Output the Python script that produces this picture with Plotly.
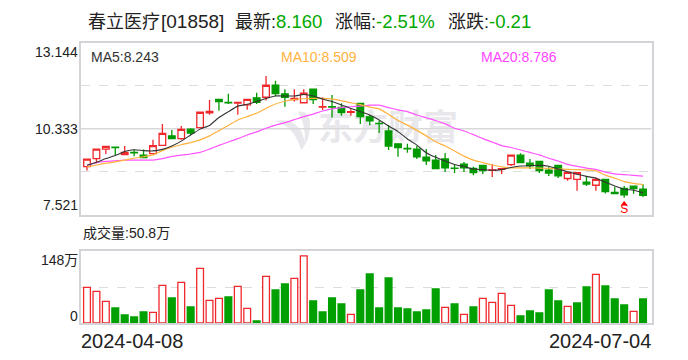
import plotly.graph_objects as go

dates = ["2024-04-08", "2024-07-04"]
stock_name = "春立医疗"
stock_code = "[01858]"
summary_labels = ["最新:", "涨幅:", "涨跌:"]
summary_values = ["8.160", "-2.51%", "-0.21"]
price_ticks = [7.521, 10.333, 13.144]
vol_top = 148

opens = [9.10,9.36,9.67,9.73,9.49,9.56,9.47,9.52,9.79,10.10,10.01,10.32,10.37,10.85,11.29,11.19,11.17,11.11,11.34,11.36,
         11.75,11.47,11.28,11.18,11.62,11.04,11.05,11.03,10.87,11.16,10.72,10.51,10.26,9.84,9.69,9.67,9.41,9.31,9.35,9.05,
         9.18,9.04,9.14,8.98,9.01,9.16,9.47,9.21,9.27,8.98,9.14,8.71,8.68,8.59,8.49,8.68,8.26,8.39,8.46,8.36]
highs = [9.34,9.69,9.76,9.73,9.77,9.66,9.66,9.97,10.49,10.29,10.42,10.35,10.87,11.27,11.29,11.47,11.19,11.29,11.51,12.05,
         11.90,11.62,11.62,11.62,11.62,11.36,11.43,11.16,10.97,11.18,10.78,10.59,10.45,9.84,9.84,9.77,9.67,9.48,9.54,9.18,
         9.25,9.09,9.14,9.18,9.03,9.47,9.53,9.35,9.27,9.10,9.14,8.91,8.90,8.79,8.75,8.68,8.43,8.47,8.46,8.52]
lows = [8.97,9.21,9.51,9.48,9.47,9.44,9.39,9.52,9.79,10.01,9.97,10.13,10.35,10.79,10.92,11.14,10.79,10.95,11.14,11.25,
        11.40,11.05,11.22,11.18,11.14,10.94,10.70,10.76,10.76,10.49,10.45,10.19,9.64,9.42,9.55,9.35,9.15,9.02,8.92,8.89,
        8.92,8.82,8.86,8.76,8.86,9.12,9.23,9.02,8.89,8.79,8.73,8.64,8.31,8.47,8.31,8.22,8.21,8.08,8.21,8.11]
closes = [9.34,9.67,9.76,9.72,9.56,9.55,9.39,9.78,10.18,10.01,10.31,10.19,10.87,10.90,11.22,11.18,11.19,11.29,11.19,11.75,
          11.48,11.36,11.32,11.49,11.28,11.05,11.04,10.86,10.89,10.73,10.59,10.50,9.77,9.72,9.68,9.42,9.29,9.03,9.06,9.04,
          9.06,8.90,8.97,8.99,9.03,9.47,9.23,9.12,8.97,8.89,8.80,8.91,8.90,8.53,8.68,8.28,8.22,8.18,8.38,8.16]

ma5 = [9.14,9.24,9.36,9.46,9.59,9.65,9.62,9.61,9.66,9.77,9.93,10.13,10.32,10.44,10.70,10.89,11.07,11.13,11.22,11.32,
       11.40,11.40,11.40,11.45,11.40,11.30,11.22,11.11,10.99,10.89,10.78,10.62,10.42,10.24,10.00,9.80,9.55,9.40,9.28,9.17,
       9.10,9.02,9.00,8.98,9.00,9.07,9.12,9.13,9.14,9.11,9.02,8.93,8.85,8.78,8.72,8.59,8.47,8.36,8.33,8.243]
ma10 = [9.09,9.15,9.21,9.25,9.31,9.37,9.42,9.48,9.62,9.73,9.81,9.88,9.97,10.10,10.27,10.44,10.62,10.73,10.84,11.00,
        11.14,11.23,11.29,11.31,11.32,11.32,11.30,11.25,11.18,11.12,11.04,10.98,10.80,10.60,10.45,10.28,10.10,9.91,9.77,9.61,
        9.44,9.31,9.23,9.15,9.09,9.06,9.06,9.06,9.05,9.04,9.02,9.01,9.00,8.99,8.96,8.82,8.72,8.61,8.55,8.509]
ma20 = [9.14,9.23,9.27,9.29,9.31,9.31,9.31,9.31,9.36,9.43,9.47,9.51,9.56,9.67,9.79,9.90,10.01,10.13,10.23,10.35,
        10.45,10.53,10.63,10.73,10.81,10.91,10.98,11.02,11.05,11.07,11.10,11.10,11.02,10.95,10.89,10.78,10.69,10.60,10.49,10.35,
        10.26,10.14,10.01,9.90,9.78,9.72,9.64,9.56,9.48,9.37,9.28,9.17,9.11,9.05,9.01,8.92,8.86,8.84,8.81,8.786]
ma_latest = [8.243, 8.509, 8.786]

volumes = [73.7,65.4,44.7,31.0,16.5,12.4,22.7,22.0,77.8,51.6,84.0,33.0,112.9,46.8,50.9,53.7,75.7,30.3,4.1,96.4,
           68.2,80.5,92.2,138.4,45.4,22.7,51.6,39.2,17.9,68.2,101.2,31.0,92.9,31.0,28.9,22.7,26.8,70.2,32.4,39.2,
           17.9,33.0,50.9,42.7,61.3,36.5,14.5,24.8,20.7,68.2,45.4,34.4,41.3,74.3,100.5,76.4,49.6,37.2,24.1,49.6]
vol_up_days = [0,1,2,7,8,10,12,13,14,16,17,19,22,23,28,38,40,42,43,44,45,51,54,58]
latest_volume = "50.8万"
signal_day = 57
signal_arrow_price = 7.88
signal_text_price = 7.70

RED = "#f0282c"
GREEN = "#009a00"
VGREEN = "#00a000"
GRID = "#dcdcdc"
BORDER = "#d4d4d8"
OFF = 8                # the page keeps its 8 px body margin
W, H = 672, 344
LEFT, RIGHT = 80.5 - OFF, 651.5 - OFF
P_TOP, P_BOT = 42.5 - OFF, 215.0 - OFF
V_TOP, V_BOT = 251.3 - OFF, 323.0 - OFF
N = len(closes)
days = list(range(N))
xr = [-0.69, N - 1 + 0.90]
xdom = [LEFT / W, RIGHT / W]

fig = go.Figure()

fig.add_trace(go.Scatter(x=[388], y=[131], mode="text", text=["东方财富"], xaxis="x", yaxis="y",
                         textfont=dict(size=35, color="#e8e8ec", family="Noto Sans CJK SC", weight="bold"),
                         hoverinfo="skip", showlegend=False))

fig.add_trace(go.Candlestick(x=days, open=opens, high=highs, low=lows, close=closes, xaxis="x2", yaxis="y2",
                             increasing=dict(line=dict(color=RED, width=1.3), fillcolor="#ffffff"),
                             decreasing=dict(line=dict(color=GREEN, width=1.3), fillcolor=GREEN),
                             showlegend=False, hoverinfo="skip"))
for vals, col, wd in [(ma20, "#ff55ff", 1.2), (ma10, "#ffb23e", 1.2), (ma5, "#333333", 1.1)]:
    fig.add_trace(go.Scatter(x=days, y=vals, mode="lines", xaxis="x2", yaxis="y2",
                             line=dict(color=col, width=wd, shape="spline", smoothing=0.5),
                             hoverinfo="skip", showlegend=False))
fig.add_trace(go.Scatter(x=[signal_day], y=[signal_arrow_price], mode="markers", xaxis="x2", yaxis="y2",
                         marker=dict(symbol="triangle-up", size=6, color="#ff0000"),
                         hoverinfo="skip", showlegend=False))
fig.add_trace(go.Scatter(x=[signal_day], y=[signal_text_price], mode="text", text=["S"], xaxis="x2", yaxis="y2",
                         textfont=dict(size=12, color="#ff0000", family="Liberation Sans"),
                         hoverinfo="skip", showlegend=False))

vol_fill = ["#ffffff" if i in vol_up_days else VGREEN for i in days]
vol_line = [RED if i in vol_up_days else VGREEN for i in days]
fig.add_trace(go.Bar(x=days, y=volumes, xaxis="x3", yaxis="y3", width=0.72,
                     marker=dict(color=vol_fill, line=dict(color=vol_line, width=1.3)),
                     hoverinfo="skip", showlegend=False))


def dom(top, bot):
    return [(H - bot) / H, (H - top) / H]


hidden = dict(visible=False, fixedrange=True)
axis_common = dict(showline=True, linecolor=BORDER, linewidth=1.5, mirror=True, zeroline=False,
                   showticklabels=False, ticks="", fixedrange=True)
layout = dict(
    width=W, height=H, margin=dict(l=0, r=0, t=0, b=0), paper_bgcolor="#ffffff", plot_bgcolor="rgba(0,0,0,0)",
    boxgap=0.3, boxgroupgap=0, bargap=0.2, showlegend=False,
    xaxis=dict(domain=xdom, range=[80.5, 651.5], **hidden),
    yaxis=dict(domain=dom(P_TOP, P_BOT), range=[215.0, 42.5], **hidden),
    xaxis2=dict(domain=xdom, range=xr, anchor="y2", showgrid=False, rangeslider=dict(visible=False), **axis_common),
    yaxis2=dict(domain=dom(P_TOP, P_BOT), range=[price_ticks[0], price_ticks[2]], anchor="x2",
                tickvals=[(price_ticks[0] + price_ticks[1]) / 2, (price_ticks[1] + price_ticks[2]) / 2],
                showgrid=True, gridcolor=GRID, griddash="dash", gridwidth=1.3, **axis_common),
    xaxis3=dict(domain=xdom, range=xr, anchor="y3", showgrid=False, **axis_common),
    yaxis3=dict(domain=dom(V_TOP, V_BOT), range=[0, vol_top], anchor="x3", tickvals=[vol_top / 2],
                showgrid=True, gridcolor=GRID, griddash="dash", gridwidth=1.3, **axis_common),
    shapes=[
        dict(type="line", xref="x2", yref="y2", x0=xr[0], x1=xr[1], y0=price_ticks[1], y1=price_ticks[1],
             line=dict(color="#d8d8d8", width=1.5), layer="below"),
        dict(type="path", xref="x", yref="y", layer="below", fillcolor="#e8e8ec", line=dict(width=0),
             path="M 275 121 C 288 118 300 124 303 136 C 306 142 305 147 301 150 C 298 138 290 125 275 121 Z"),
        dict(type="path", xref="x", yref="y", layer="below", fillcolor="#e8e8ec", line=dict(width=0),
             path="M 298 112 C 306 110 311 116 310 128 C 309 137 307 142 304 146 C 306 134 304 122 298 112 Z"),
    ],
)
fig.update_layout(**layout)

FONT = "Liberation Sans, Noto Sans CJK SC, sans-serif"


def label(x, y, text, size, color="#222222", anchor="left", family=FONT):
    fig.add_annotation(xref="paper", yref="paper", x=(x - OFF) / W, y=1 - (y - OFF) / H, text=text, showarrow=False,
                       xanchor=anchor, yanchor="middle", borderpad=0, borderwidth=0,
                       font=dict(size=size, color=color, family=family))


TITLE_GREEN = "#00a800"
label(88, 22, stock_name, 18)
label(161, 22, stock_code, 19)
label(235, 22, summary_labels[0], 18)
label(276, 22, summary_values[0], 18.5, TITLE_GREEN)
label(335, 22, summary_labels[1], 18)
label(376, 22, summary_values[1], 18.5, TITLE_GREEN)
label(448, 22, summary_labels[2], 18)
label(489, 22, summary_values[2], 18.5, TITLE_GREEN)

label(78, 52, f"{price_ticks[2]:.3f}", 14, anchor="right")
label(78, 129, f"{price_ticks[1]:.3f}", 14, anchor="right")
label(78, 205, f"{price_ticks[0]:.3f}", 14, anchor="right")

label(91, 57, f"MA5:{ma_latest[0]:.3f}", 14, "#333333")
label(281, 57, f"MA10:{ma_latest[1]:.3f}", 14, "#ffb23e")
label(481, 57, f"MA20:{ma_latest[2]:.3f}", 14, "#ff44ff")

label(83, 233, "成交量:" + latest_volume, 14)
label(78, 260, f"{vol_top}万", 14, anchor="right")
label(78, 316, "0", 14, anchor="right")
label(81, 341, dates[0], 20)
label(651, 341, dates[1], 20, anchor="right")

fig.write_html("out.html", config=dict(displayModeBar=False))
